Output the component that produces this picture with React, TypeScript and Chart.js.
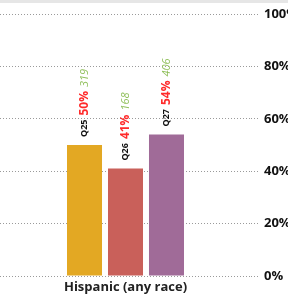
import React, { useEffect, useRef } from "react";
import { Chart, registerables } from "chart.js";

Chart.register(...registerables);

const categories = ["Hispanic (any race)"];
const questions = ["Q25", "Q26", "Q27"];
const percentValues = [50, 41, 54];
const countValues = [319, 168, 406];
const barColors = ["#E3A823", "#C9605A", "#A06B98"];
const yTicks = [0, 20, 40, 60, 80, 100];

const FONT = "'Open Sans', 'DejaVu Sans', sans-serif";

const barLabelPlugin = {
  id: "barLabels",
  beforeDraw(chart: any) {
    const ctx = chart.ctx;
    ctx.save();
    ctx.fillStyle = "#e6e6e6";
    ctx.fillRect(0, 0, chart.width, 3);
    ctx.restore();
  },
  afterDatasetsDraw(chart: any) {
    const ctx = chart.ctx;
    chart.data.datasets.forEach((ds: any, i: number) => {
      const meta = chart.getDatasetMeta(i);
      meta.data.forEach((bar: any) => {
        ctx.save();
        ctx.translate(bar.x, bar.y - 8);
        ctx.rotate(-Math.PI / 2);
        ctx.textAlign = "left";
        ctx.textBaseline = "middle";
        let x = 0;
        ctx.font = `bold 9px ${FONT}`;
        ctx.fillStyle = "#111";
        ctx.fillText(questions[i], x, 0);
        x += ctx.measureText(questions[i]).width + 4;
        const pct = `${percentValues[i]}%`;
        ctx.font = `bold 12px ${FONT}`;
        ctx.fillStyle = "#ff2b2b";
        ctx.fillText(pct, x, 0);
        x += ctx.measureText(pct).width + 4;
        const cnt = `${countValues[i]}`;
        ctx.font = `italic 11px ${FONT}`;
        ctx.fillStyle = "#8fbf5a";
        ctx.fillText(cnt, x, 0);
        ctx.restore();
      });
    });
  },
};

export default function App() {
  const ref = useRef<HTMLCanvasElement | null>(null);
  useEffect(() => {
    if (!ref.current) return;
    const chart = new Chart(ref.current, {
      type: "bar",
      data: {
        labels: categories,
        datasets: questions.map((q, i) => ({
          label: q,
          data: [percentValues[i]],
          backgroundColor: barColors[i],
          borderWidth: 0,
          categoryPercentage: 0.49,
          barPercentage: 0.854,
        })),
      },
      options: {
        responsive: false,
        animation: false,
        devicePixelRatio: 1,
        layout: { padding: { top: 14, left: 0, right: 0, bottom: 0 } },
        plugins: {
          legend: { display: false },
          tooltip: { enabled: false },
        },
        scales: {
          x: {
            grid: { display: false, drawTicks: false },
            border: { display: false },
            ticks: {
              color: "#222",
              padding: 3,
              font: { family: FONT, size: 13, weight: "bold" },
            },
            afterFit: (s: any) => {
              s.height = 20;
            },
          },
          y: {
            position: "right",
            min: 0,
            max: 100,
            afterBuildTicks: (s: any) => {
              s.ticks = yTicks.map((v) => ({ value: v }));
            },
            grid: {
              color: "#9a9a9a",
              tickColor: "#9a9a9a",
              tickLength: 7,
              tickBorderDash: [1, 2],
            },
            border: { display: false, dash: [1, 2] },
            ticks: {
              color: "#111",
              padding: 6,
              font: { family: FONT, size: 13, weight: "bold" },
              callback: (v: any) => `${v}%`,
            },
            afterFit: (s: any) => {
              s.width = 49;
            },
          },
        },
      },
      plugins: [barLabelPlugin],
    });
    return () => chart.destroy();
  }, []);
  return (
    <div
      style={{
        position: "absolute",
        left: 0,
        top: 0,
        width: 288,
        height: 296,
        overflow: "hidden",
        background: "#fff",
      }}
    >
      <canvas ref={ref} width={300} height={296} style={{ display: "block" }} />
    </div>
  );
}
